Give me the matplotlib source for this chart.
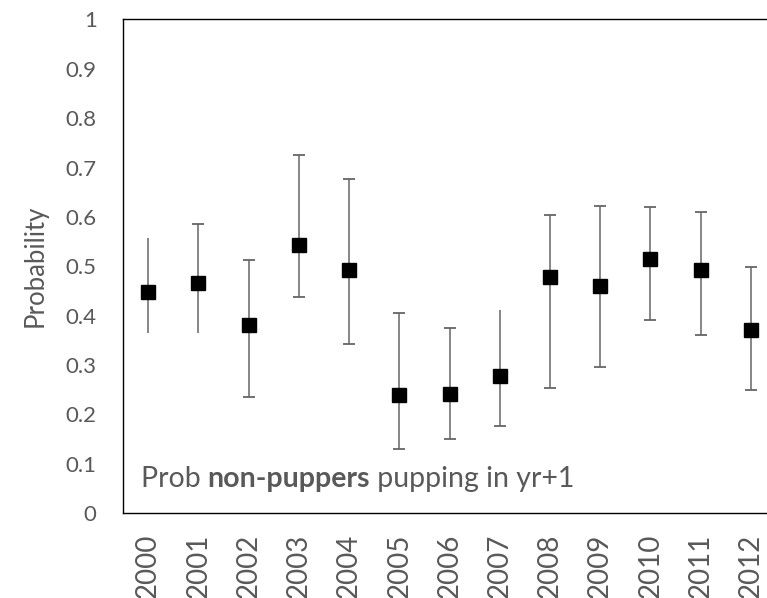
import matplotlib.pyplot as plt

years = ["2000", "2001", "2002", "2003", "2004", "2005", "2006",
         "2007", "2008", "2009", "2010", "2011", "2012"]
prob = [0.447, 0.467, 0.380, 0.544, 0.493, 0.239, 0.241,
        0.278, 0.478, 0.459, 0.515, 0.493, 0.371]
upper = [0.557, 0.585, 0.512, 0.726, 0.676, 0.406, 0.374,
         0.411, 0.603, 0.623, 0.621, 0.609, 0.499]
lower = [0.364, 0.364, 0.236, 0.438, 0.342, 0.129, 0.151,
         0.176, 0.254, 0.295, 0.392, 0.360, 0.249]
# which whiskers have a cap in the original
cap_top = [False, True, True, True, True, True, True,
           False, True, True, True, True, True]
cap_bottom = [False, False, True, True, True, True, True,
              True, True, True, True, True, True]

grey = "#595959"
plt.rcParams["font.family"] = ["Lato", "DejaVu Sans"]

fig = plt.figure(figsize=(7.67, 5.98), dpi=100)
ax = fig.add_axes([0.1604, 0.1421, 0.8513, 0.8253])

x = list(range(len(years)))
err = [[p - lo for p, lo in zip(prob, lower)],
       [up - p for p, up in zip(prob, upper)]]
ax.errorbar(x, prob, yerr=err, fmt="s", color="black", ms=9.5,
            ecolor="#666666", elinewidth=1.1, capsize=0, zorder=3)

tx = [i for i in x if cap_top[i]]
ty = [upper[i] for i in x if cap_top[i]]
bx = [i for i in x if cap_bottom[i]]
by = [lower[i] for i in x if cap_bottom[i]]
ax.plot(tx, ty, "_", color="#666666", ms=8, mew=1.3, ls="none")
ax.plot(bx, by, "_", color="#666666", ms=8, mew=1.3, ls="none")

ax.set_xlim(-0.5, 12.5)
ax.set_ylim(0, 1)
ax.set_yticks([i / 10 for i in range(11)])
ax.set_yticklabels(["0"] + [f"{i / 10:.1f}" for i in range(1, 10)] + ["1"])
ax.set_xticks(x)
ax.set_xticklabels(years, rotation=90, fontsize=20, color=grey)
ax.tick_params(axis="y", length=0, pad=19, labelsize=16, labelcolor=grey)
ax.tick_params(axis="x", length=0, pad=15)
for s in ax.spines.values():
    s.set_linewidth(1.0)
    s.set_color("black")

ax.set_ylabel("Probability", fontsize=18.5, color=grey, labelpad=13)

# caption with bold middle part, pieces placed on one baseline
parts = [("Prob ", "normal"), ("non-puppers", "bold"), (" pupping in yr+1", "normal")]
fig.canvas.draw()
x0, y0 = ax.transAxes.transform((0.027, 0.053))
for s, w in parts:
    t = ax.text(x0, y0, s, transform=None, fontsize=20.5, color=grey,
                fontweight=w, va="baseline")
    x0 = t.get_window_extent(fig.canvas.get_renderer()).x1

fig.savefig("out.png", dpi=100)
